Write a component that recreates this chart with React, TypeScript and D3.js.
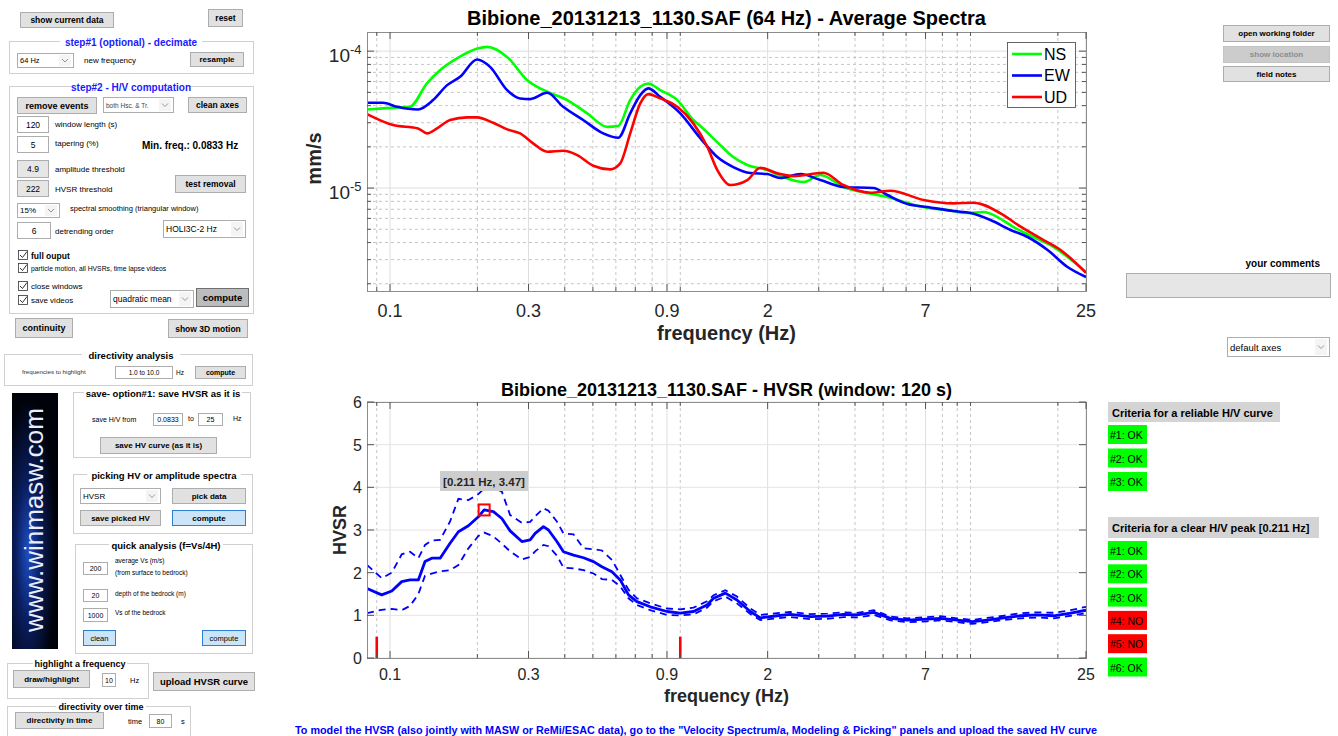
import React from "react";
import * as d3 from "d3";

// ---------------- Average spectra (mm/s) ----------------
const nsFreq = [0.0833, 0.0946, 0.117, 0.134, 0.149, 0.17, 0.2, 0.216, 0.253, 0.297, 0.348, 0.408, 0.478, 0.56, 0.611, 0.672, 0.728, 0.776, 0.853, 0.977, 1.109, 1.172, 1.374, 1.523, 1.702, 1.995, 2.266, 2.656, 3.04, 3.648, 4.415, 5.173, 6.066, 7.109, 8.33, 9.765, 11.09, 12.39, 14.07, 16.49, 19.33, 21.6, 25];
const nsAmp = [3.75e-5, 3.82e-5, 3.92e-5, 5.81e-5, 7.27e-5, 8.84e-5, 10.46e-5, 10.75e-5, 9.08e-5, 6.14e-5, 5.05e-5, 4.39e-5, 3.51e-5, 2.8e-5, 2.84e-5, 4.39e-5, 5.49e-5, 5.81e-5, 5.19e-5, 4.39e-5, 3.14e-5, 2.84e-5, 2.06e-5, 1.684e-5, 1.472e-5, 1.353e-5, 1.203e-5, 1.106e-5, 1.244e-5, 1.017e-5, 0.919e-5, 0.86e-5, 0.777e-5, 0.715e-5, 0.691e-5, 0.657e-5, 0.668e-5, 0.614e-5, 0.519e-5, 0.439e-5, 0.371e-5, 0.3135e-5, 0.2436e-5];

const ewFreq = [0.0833, 0.0946, 0.1057, 0.1249, 0.1407, 0.1573, 0.1743, 0.1995, 0.2212, 0.2532, 0.2807, 0.304, 0.3479, 0.395, 0.4629, 0.5427, 0.6113, 0.6723, 0.728, 0.7756, 0.8531, 1.0, 1.172, 1.342, 1.523, 1.743, 1.995, 2.212, 2.594, 3.04, 3.648, 4.629, 5.173, 6.066, 7.109, 8.737, 10, 11.72, 13.74, 15.73, 18.43, 21.6, 25];
const ewAmp = [4.195e-5, 4.195e-5, 3.92e-5, 3.75e-5, 4.39e-5, 5.647e-5, 6.494e-5, 8.7e-5, 7.68e-5, 5.19e-5, 4.516e-5, 4.463e-5, 4.963e-5, 3.92e-5, 3.14e-5, 2.507e-5, 2.329e-5, 3.51e-5, 4.773e-5, 5.343e-5, 4.639e-5, 3.51e-5, 2.317e-5, 1.684e-5, 1.423e-5, 1.287e-5, 1.265e-5, 1.183e-5, 1.265e-5, 1.144e-5, 1.017e-5, 1.0e-5, 0.889e-5, 0.764e-5, 0.727e-5, 0.679e-5, 0.657e-5, 0.584e-5, 0.494e-5, 0.439e-5, 0.353e-5, 0.265e-5, 0.224e-5];

const udFreq = [0.0833, 0.1024, 0.1249, 0.1341, 0.1452, 0.161, 0.1843, 0.1995, 0.2266, 0.2532, 0.2807, 0.3112, 0.3479, 0.395, 0.4415, 0.5012, 0.5736, 0.621, 0.6723, 0.728, 0.7756, 0.8531, 0.9765, 1.109, 1.239, 1.342, 1.488, 1.702, 1.887, 2.16, 2.453, 3.112, 3.648, 4.522, 5.298, 6.886, 8.737, 10.24, 12.69, 14.88, 17.85, 20.43, 25];
const udAmp = [3.468e-5, 2.884e-5, 2.728e-5, 2.507e-5, 2.728e-5, 3.14e-5, 3.282e-5, 3.282e-5, 2.998e-5, 2.682e-5, 2.507e-5, 2.12e-5, 1.841e-5, 1.872e-5, 1.741e-5, 1.455e-5, 1.369e-5, 1.514e-5, 2.507e-5, 4.152e-5, 4.856e-5, 4.516e-5, 3.92e-5, 2.967e-5, 2.002e-5, 1.353e-5, 1.052e-5, 1.144e-5, 1.407e-5, 1.28e-5, 1.223e-5, 1.293e-5, 1.052e-5, 0.924e-5, 0.956e-5, 0.818e-5, 0.773e-5, 0.781e-5, 0.654e-5, 0.522e-5, 0.417e-5, 0.353e-5, 0.24e-5];

const seriesNames = ["NS", "EW", "UD"];
const seriesColors = ["#00ff00", "#0000ff", "#ff0000"];

// ---------------- HVSR ----------------
const hvFreq = [0.0833, 0.0936, 0.1014, 0.1097, 0.1172, 0.1252, 0.132, 0.1392, 0.1488, 0.161, 0.172, 0.1862, 0.2016, 0.211, 0.2271, 0.2428, 0.2593, 0.2846, 0.304, 0.3162, 0.3378, 0.3515, 0.3757, 0.3959, 0.4286, 0.4641, 0.5024, 0.537, 0.5815, 0.621, 0.6632, 0.7091, 0.7881, 0.9, 1.0, 1.111, 1.236, 1.302, 1.43, 1.568, 1.743, 1.887, 2.155, 2.395, 2.808, 3.206, 3.657, 4.068, 4.641, 5.298, 6.05, 7.091, 7.881, 9.0, 10.14, 11.42, 13.02, 14.88, 16.98, 19.37, 22.13, 25];
const hvMean = [1.63, 1.48, 1.57, 1.79, 1.83, 1.83, 2.26, 2.34, 2.34, 2.69, 2.96, 3.1, 3.31, 3.47, 3.43, 3.27, 2.98, 2.73, 2.77, 2.92, 3.08, 3.0, 2.73, 2.49, 2.41, 2.35, 2.26, 2.14, 2.02, 1.83, 1.48, 1.32, 1.2, 1.09, 1.05, 1.09, 1.24, 1.4, 1.52, 1.36, 1.09, 0.94, 0.99, 1.02, 0.97, 0.98, 1.02, 1.01, 1.07, 0.93, 0.89, 0.91, 0.93, 0.89, 0.85, 0.89, 0.94, 0.99, 1.01, 0.99, 1.05, 1.12];
const hvUpper = [2.18, 1.87, 2.0, 2.43, 2.49, 2.34, 2.65, 2.75, 2.77, 3.2, 3.73, 3.7, 3.84, 3.98, 4.0, 3.9, 3.35, 3.17, 3.19, 3.32, 3.51, 3.45, 3.2, 2.92, 2.9, 2.57, 2.55, 2.52, 2.3, 1.95, 1.6, 1.4, 1.28, 1.16, 1.14, 1.18, 1.33, 1.47, 1.59, 1.44, 1.16, 1.01, 1.05, 1.08, 1.03, 1.04, 1.07, 1.06, 1.12, 0.97, 0.93, 0.96, 0.98, 0.93, 0.89, 0.94, 0.99, 1.05, 1.07, 1.06, 1.12, 1.2];
const hvLower = [1.05, 1.13, 1.15, 1.12, 1.22, 1.5, 1.93, 1.98, 2.03, 2.06, 2.18, 2.57, 2.86, 2.94, 2.85, 2.68, 2.5, 2.31, 2.37, 2.5, 2.65, 2.62, 2.4, 2.12, 2.1, 2.06, 1.98, 1.85, 1.83, 1.68, 1.4, 1.24, 1.12, 1.01, 1.0, 1.02, 1.18, 1.33, 1.44, 1.28, 1.03, 0.89, 0.93, 0.96, 0.91, 0.92, 0.96, 0.95, 1.01, 0.88, 0.84, 0.86, 0.88, 0.84, 0.8, 0.84, 0.89, 0.93, 0.95, 0.93, 0.99, 1.05];

const peakFreq = 0.211;
const peakHV = 3.47;
const limitFreqs = [0.09, 1.0];
const limitHeight = 0.5;

// ---------------- Axes ticks ----------------
const xTickValues = [0.1, 0.3, 0.9, 2, 7, 25];
const xTickLabels = ["0.1", "0.3", "0.9", "2", "7", "25"];
const xMinorValues = [0.09, 0.2, 0.4, 0.5, 0.6, 0.7, 0.8, 1, 3, 4, 5, 6, 8, 9, 10, 20];
const specMajorY = [1e-5, 1e-4];
const specMinorY = [2e-6, 3e-6, 4e-6, 5e-6, 6e-6, 7e-6, 8e-6, 9e-6, 2e-5, 3e-5, 4e-5, 5e-5, 6e-5, 7e-5, 8e-5, 9e-5];
const hvTicks = [0, 1, 2, 3, 4, 5, 6];

// ---------------- Criteria ----------------
const reliableLabels = ["#1: OK", "#2: OK", "#3: OK"];
const reliablePass = [true, true, true];
const peakLabels = ["#1: OK", "#2: OK", "#3: OK", "#4: NO", "#5: NO", "#6: OK"];
const peakPass = [true, true, true, false, false, true];

const FONT = '"Liberation Sans", Arial, Helvetica, sans-serif';
const AX = "#262626";

function Button({ x, y, w, h, label, fs = 8.5, bold = true, fill = "#e1e1e1", stroke = "#adadad", color = "#000" }: any) {
  return (
    <g>
      <rect x={x + 0.5} y={y + 0.5} width={w} height={h} fill={fill} stroke={stroke} />
      <text x={x + w / 2 + 0.5} y={y + h / 2 + 0.8} textAnchor="middle" dominantBaseline="central" fontSize={fs} fontWeight={bold ? "bold" : "normal"} fill={color}>{label}</text>
    </g>
  );
}

function Edit({ x, y, w, h, value, fs = 8.5, fill = "#fff" }: any) {
  return (
    <g>
      <rect x={x + 0.5} y={y + 0.5} width={w} height={h} fill={fill} stroke="#adadad" />
      <text x={x + w / 2 + 0.5} y={y + h / 2 + 0.8} textAnchor="middle" dominantBaseline="central" fontSize={fs} fill="#000">{value}</text>
    </g>
  );
}

function Drop({ x, y, w, h, label, fs = 8.5, color = "#000" }: any) {
  const cy = y + h / 2;
  return (
    <g>
      <rect x={x + 0.5} y={y + 0.5} width={w} height={h} fill="#fff" stroke="#adadad" />
      <rect x={x + w - 14} y={y + 2} width={12} height={h - 3} fill="#f4f4f4" />
      <path d={`M${x + w - 11},${cy - 1} l3,3 l3,-3`} fill="none" stroke="#8a8a8a" strokeWidth={0.9} />
      <text x={x + 3} y={cy + 0.8} dominantBaseline="central" fontSize={fs} fill={color}>{label}</text>
    </g>
  );
}

function Check({ x, y, label, fs = 8.5, bold = false }: any) {
  return (
    <g>
      <rect x={x + 0.5} y={y + 0.5} width={9} height={9} fill="#fff" stroke="#333" strokeWidth={0.8} />
      <path d={`M${x + 2},${y + 5} l2.5,2.5 l4.5,-6`} fill="none" stroke="#333" strokeWidth={1} />
      <text x={x + 13} y={y + 5.5} dominantBaseline="central" fontSize={fs} fontWeight={bold ? "bold" : "normal"} fill="#000">{label}</text>
    </g>
  );
}

function Panel({ x, y, w, h, title, cx, tw, fs = 9.5, color = "#000" }: any) {
  return (
    <g>
      <rect x={x + 0.5} y={y + 0.5} width={w} height={h} fill="none" stroke="#d0d0d0" />
      <rect x={cx - tw / 2 - 3} y={y - 6} width={tw + 6} height={12} fill="#fff" />
      <text x={cx} y={y + 1} textAnchor="middle" dominantBaseline="central" fontSize={fs} fontWeight="bold" fill={color}>{title}</text>
    </g>
  );
}

function Label({ x, y, children, fs = 8.5, color = "#000", bold = false, anchor = "start" }: any) {
  return <text x={x} y={y} fontSize={fs} fill={color} fontWeight={bold ? "bold" : "normal"} textAnchor={anchor} dominantBaseline="central">{children}</text>;
}

export default function App() {
  const xTop = d3.scaleLog().domain([0.0833, 25]).range([367, 1086]);
  const yTop = d3.scaleLog().domain([1.77e-6, 1.38e-4]).range([291, 32]);
  const xBot = d3.scaleLog().domain([0.0833, 25]).range([367, 1086]);
  const yBot = d3.scaleLinear().domain([0, 6]).range([658, 402]);

  const [tx0, tx1] = xTop.range();
  const [ty0, ty1] = [yTop.range()[1], yTop.range()[0]];
  const [by0, by1] = [yBot.range()[1], yBot.range()[0]];

  const specLine = d3.line<[number, number]>().x((d) => xTop(d[0])).y((d) => yTop(d[1])).curve(d3.curveMonotoneX);
  const hvLine = d3.line<[number, number]>().x((d) => xBot(d[0])).y((d) => yBot(d[1]));

  const spectra = [
    { f: nsFreq, a: nsAmp },
    { f: ewFreq, a: ewAmp },
    { f: udFreq, a: udAmp },
  ];
  const zip = (f: number[], a: number[]) => f.map((v, i) => [v, a[i]] as [number, number]);

  return (
    <div style={{ position: "absolute", left: 0, top: 0 }}>
      <svg width={1338} height={736} style={{ display: "block", fontFamily: FONT, background: "#fff" }}>
        <defs>
          <clipPath id="clipTop"><rect x={tx0} y={ty0} width={tx1 - tx0} height={ty1 - ty0} /></clipPath>
          <clipPath id="clipBot"><rect x={tx0} y={by0} width={tx1 - tx0} height={by1 - by0} /></clipPath>
          <radialGradient id="glow" cx="0.35" cy="0.62" r="0.6">
            <stop offset="0" stopColor="#1d4fc4" />
            <stop offset="0.45" stopColor="#0a1d5e" />
            <stop offset="1" stopColor="#00020a" />
          </radialGradient>
        </defs>
        <rect x={0} y={0} width={1338} height={736} fill="#fff" />

        {/* ================= TOP CHART ================= */}
        <g>
          {xMinorValues.map((v) => (
            <line key={"tvm" + v} x1={xTop(v)} x2={xTop(v)} y1={ty0} y2={ty1} stroke="#c6c6c6" strokeDasharray="3,3" />
          ))}
          {specMinorY.map((v) => (
            <line key={"thm" + v} x1={tx0} x2={tx1} y1={yTop(v)} y2={yTop(v)} stroke="#c6c6c6" strokeDasharray="3,3" />
          ))}
          {xTickValues.map((v) => (
            <line key={"tv" + v} x1={xTop(v)} x2={xTop(v)} y1={ty0} y2={ty1} stroke="#dedede" />
          ))}
          {specMajorY.map((v) => (
            <line key={"th" + v} x1={tx0} x2={tx1} y1={yTop(v)} y2={yTop(v)} stroke="#dedede" />
          ))}
          <g clipPath="url(#clipTop)">
            {spectra.map((s, i) => (
              <path key={"s" + i} d={specLine(zip(s.f, s.a)) || ""} fill="none" stroke={seriesColors[i]} strokeWidth={2.6} strokeLinejoin="round" />
            ))}
          </g>
          {/* frame and ticks */}
          <rect x={tx0 + 0.5} y={ty0 + 0.5} width={tx1 - tx0} height={ty1 - ty0} fill="none" stroke="#8c8c8c" />
          {xTickValues.map((v) => (
            <g key={"tt" + v}>
              <line x1={xTop(v)} x2={xTop(v)} y1={ty1} y2={ty1 - 7} stroke="#555" />
              <line x1={xTop(v)} x2={xTop(v)} y1={ty0} y2={ty0 + 7} stroke="#555" />
            </g>
          ))}
          {xMinorValues.map((v) => (
            <g key={"ttm" + v}>
              <line x1={xTop(v)} x2={xTop(v)} y1={ty1} y2={ty1 - 4} stroke="#555" />
              <line x1={xTop(v)} x2={xTop(v)} y1={ty0} y2={ty0 + 4} stroke="#555" />
            </g>
          ))}
          {specMajorY.map((v) => (
            <g key={"tyt" + v}>
              <line x1={tx0} x2={tx0 + 7} y1={yTop(v)} y2={yTop(v)} stroke="#555" />
              <line x1={tx1} x2={tx1 - 7} y1={yTop(v)} y2={yTop(v)} stroke="#555" />
            </g>
          ))}
          {specMinorY.map((v) => (
            <g key={"tytm" + v}>
              <line x1={tx0} x2={tx0 + 4} y1={yTop(v)} y2={yTop(v)} stroke="#555" />
              <line x1={tx1} x2={tx1 - 4} y1={yTop(v)} y2={yTop(v)} stroke="#555" />
            </g>
          ))}
          {xTickValues.map((v, i) => (
            <text key={"tl" + v} x={xTop(v)} y={317} textAnchor="middle" fontSize={18} fill={AX}>{xTickLabels[i]}</text>
          ))}
          {specMajorY.map((v) => (
            <g key={"tyl" + v}>
              <text x={350} y={yTop(v) + 11} textAnchor="end" fontSize={19} fill={AX}>10</text>
              <text x={350} y={yTop(v) + 3} textAnchor="start" fontSize={13} fill={AX}>{String(Math.round(Math.log10(v)))}</text>
            </g>
          ))}
          <text x={(tx0 + tx1) / 2} y={25} textAnchor="middle" fontSize={20} fontWeight="bold" fill="#000">Bibione_20131213_1130.SAF (64 Hz) - Average Spectra</text>
          <text x={(tx0 + tx1) / 2} y={340} textAnchor="middle" fontSize={20} fontWeight="bold" fill={AX}>frequency (Hz)</text>
          <text transform={`translate(321,${(ty0 + ty1) / 2 - 3}) rotate(-90)`} textAnchor="middle" fontSize={20} fontWeight="bold" fill={AX}>mm/s</text>
          {/* legend */}
          <rect x={1007.5} y={42.5} width={68} height={65} fill="#fff" stroke="#555" strokeWidth={0.9} />
          {seriesNames.map((n, i) => (
            <g key={"lg" + n}>
              <line x1={1012} x2={1042} y1={54 + i * 21.5} y2={54 + i * 21.5} stroke={seriesColors[i]} strokeWidth={2.6} />
              <text x={1044} y={54 + i * 21.5} dominantBaseline="central" fontSize={16} fill="#000">{n}</text>
            </g>
          ))}
        </g>

        {/* ================= BOTTOM CHART ================= */}
        <g>
          {xMinorValues.map((v) => (
            <line key={"bvm" + v} x1={xBot(v)} x2={xBot(v)} y1={by0} y2={by1} stroke="#c6c6c6" strokeDasharray="3,3" />
          ))}
          {xTickValues.map((v) => (
            <line key={"bv" + v} x1={xBot(v)} x2={xBot(v)} y1={by0} y2={by1} stroke="#dedede" />
          ))}
          {hvTicks.map((v) => (
            <line key={"bh" + v} x1={tx0} x2={tx1} y1={yBot(v)} y2={yBot(v)} stroke="#e4e4e4" />
          ))}
          <g clipPath="url(#clipBot)">
            <path d={hvLine(zip(hvFreq, hvUpper)) || ""} fill="none" stroke="#0000ff" strokeWidth={1.8} strokeDasharray="7,5" />
            <path d={hvLine(zip(hvFreq, hvLower)) || ""} fill="none" stroke="#0000ff" strokeWidth={1.8} strokeDasharray="7,5" />
            <path d={hvLine(zip(hvFreq, hvMean)) || ""} fill="none" stroke="#0000ff" strokeWidth={2.8} strokeLinejoin="round" />
          </g>
          {limitFreqs.map((f) => (
            <line key={"lim" + f} x1={xBot(f)} x2={xBot(f)} y1={yBot(0)} y2={yBot(limitHeight)} stroke="#ff0000" strokeWidth={2.6} />
          ))}
          <rect x={tx0 + 0.5} y={by0 + 0.5} width={tx1 - tx0} height={by1 - by0} fill="none" stroke="#8c8c8c" />
          {xTickValues.map((v) => (
            <g key={"bt" + v}>
              <line x1={xBot(v)} x2={xBot(v)} y1={by1} y2={by1 - 7} stroke="#555" />
              <line x1={xBot(v)} x2={xBot(v)} y1={by0} y2={by0 + 7} stroke="#555" />
            </g>
          ))}
          {xMinorValues.map((v) => (
            <g key={"btm" + v}>
              <line x1={xBot(v)} x2={xBot(v)} y1={by1} y2={by1 - 4} stroke="#555" />
              <line x1={xBot(v)} x2={xBot(v)} y1={by0} y2={by0 + 4} stroke="#555" />
            </g>
          ))}
          {hvTicks.map((v) => (
            <g key={"byt" + v}>
              <line x1={tx0} x2={tx0 + 7} y1={yBot(v)} y2={yBot(v)} stroke="#555" />
              <line x1={tx1} x2={tx1 - 7} y1={yBot(v)} y2={yBot(v)} stroke="#555" />
              <text x={362} y={yBot(v) + 6} textAnchor="end" fontSize={16} fill={AX}>{String(v)}</text>
            </g>
          ))}
          {xTickValues.map((v, i) => (
            <text key={"bl" + v} x={xBot(v)} y={680} textAnchor="middle" fontSize={16} fill={AX}>{xTickLabels[i]}</text>
          ))}
          {/* peak marker + data tip */}
          <rect x={xBot(peakFreq) - 5.5} y={yBot(peakHV) - 5.5} width={11} height={11} fill="none" stroke="#ff0000" strokeWidth={2} />
          <rect x={440} y={471} width={88} height={20} fill="#cdcdcd" />
          <text x={484} y={481.5} textAnchor="middle" dominantBaseline="central" fontSize={11.5} fontWeight="bold" fill={AX}>{`[${peakFreq} Hz, ${peakHV}]`}</text>
          <text x={(tx0 + tx1) / 2} y={396} textAnchor="middle" fontSize={18} fontWeight="bold" fill="#000">Bibione_20131213_1130.SAF - HVSR (window: 120 s)</text>
          <text x={(tx0 + tx1) / 2} y={702} textAnchor="middle" fontSize={18} fontWeight="bold" fill={AX}>frequency (Hz)</text>
          <text transform={`translate(346,${(by0 + by1) / 2}) rotate(-90)`} textAnchor="middle" fontSize={18} fontWeight="bold" fill={AX}>HVSR</text>
        </g>

        {/* ================= LEFT GUI ================= */}
        <g>
          <Button x={20} y={12} w={93} h={15} label="show current data" />
          <Button x={208} y={9} w={34} h={17} label="reset" />

          <Panel x={9} y={41} w={244} h={32} title="step#1 (optional) - decimate" cx={131} tw={136} fs={10} color="#1a1aff" />
          <Drop x={17} y={53} w={56} h={14} label="64 Hz" fs={7.5} />
          <Label x={84} y={60} fs={8}>new frequency</Label>
          <Button x={190} y={52} w={53} h={14} label="resample" fs={8} />

          <Panel x={9} y={86} w={244} h={227} title="step#2 - H/V computation" cx={131} tw={112} fs={10} color="#1a1aff" />
          <Button x={17} y={97} w={79} h={16} label="remove events" fs={9} />
          <Drop x={103} y={97} w={70} h={15} label="both Hsc. & Tr." fs={6.5} color="#444" />
          <Button x={188} y={97} w={58} h={15} label="clean axes" fs={8.5} />
          <Edit x={17} y={116} w={31} h={16} value="120" />
          <Label x={55} y={124} fs={8}>window length (s)</Label>
          <Edit x={17} y={136} w={31} h={16} value="5" />
          <Label x={55} y={143} fs={8}>tapering (%)</Label>
          <Label x={142} y={145} fs={10} bold>Min. freq.: 0.0833 Hz</Label>
          <Edit x={17} y={160} w={31} h={17} value="4.9" fill="#e6e6e6" />
          <Label x={55} y={169} fs={8}>amplitude threshold</Label>
          <Edit x={17} y={180} w={31} h={16} value="222" fill="#e6e6e6" />
          <Label x={55} y={189} fs={8}>HVSR threshold</Label>
          <Button x={175} y={175} w={70} h={17} label="test removal" fs={8.5} />
          <Drop x={17} y={203} w={42} h={14} label="15%" fs={8} />
          <Label x={70} y={208} fs={7.5}>spectral smoothing (triangular window)</Label>
          <Edit x={17} y={222} w={33} h={16} value="6" />
          <Label x={55} y={231} fs={8}>detrending order</Label>
          <Drop x={163} y={220} w={82} h={17} label="HOLI3C-2 Hz" fs={8.5} />
          <Check x={18} y={250} label="full ouput" fs={8.5} bold />
          <Check x={18} y={263} label="particle motion, all HVSRs, time lapse videos" fs={6.8} />
          <Check x={18} y={281} label="close windows" fs={8} />
          <Check x={18} y={295} label="save videos" fs={8} />
          <Drop x={110} y={290} w={83} h={17} label="quadratic mean" fs={8.5} />
          <Button x={196} y={288} w={52} h={18} label="compute" fs={9.5} fill="#bcbcbc" stroke="#707070" />

          <Button x={15} y={318} w={57} h={19} label="continuity" fs={9} />
          <Button x={168} y={319} w={79} h={18} label="show 3D motion" fs={8.5} />

          <Panel x={4} y={354} w={248} h={31} title="directivity analysis" cx={131} tw={92} fs={9.5} />
          <Label x={22} y={371} fs={6.2} color="#333">frequencies to highlight</Label>
          <Edit x={115} y={366} w={57} h={12} value="1.0 to 10.0" fs={6.5} />
          <Label x={176} y={372} fs={6.5}>Hz</Label>
          <Button x={195} y={366} w={50} h={12} label="compute" fs={7} />

          {/* logo */}
          <rect x={12} y={393} width={46} height={256} fill="url(#glow)" />
          <text transform="translate(43,520) rotate(-90)" textAnchor="middle" fontSize={26} fill="#e8eefc">www.winmasw.com</text>

          <Panel x={73} y={392} w={177} h={65} title="save- option#1: save HVSR as it is" cx={163} tw={152} fs={9.5} />
          <Label x={92} y={419} fs={7}>save H/V from</Label>
          <Edit x={153} y={413} w={29} h={12} value="0.0833" fs={7} />
          <Label x={188} y={418} fs={7}>to</Label>
          <Edit x={198} y={413} w={24} h={12} value="25" fs={7} />
          <Label x={233} y={418} fs={7}>Hz</Label>
          <Button x={100} y={437} w={116} h={16} label="save HV curve (as it is)" fs={8} />

          <Panel x={73} y={474} w={179} h={59} title="picking HV or amplitude spectra" cx={164} tw={148} fs={9.5} />
          <Drop x={80} y={488} w={80} h={15} label="HVSR" fs={8} />
          <Button x={172} y={488} w={73} h={15} label="pick data" fs={8} />
          <Button x={80} y={510} w={80} h={15} label="save picked HV" fs={8} />
          <Button x={172} y={510} w={73} h={15} label="compute" fs={8} fill="#cce4f7" stroke="#2a7fd4" />

          <Panel x={75} y={544} w={177} h={109} title="quick analysis (f=Vs/4H)" cx={166} tw={108} fs={9.5} />
          <Edit x={83} y={562} w={24} h={12} value="200" fs={7} />
          <Label x={115} y={560} fs={6.5}>average Vs (m/s)</Label>
          <Label x={115} y={572} fs={6.5}>(from surface to bedrock)</Label>
          <Edit x={83} y={589} w={24} h={12} value="20" fs={7} />
          <Label x={115} y={593} fs={6.5}>depth of the bedrock (m)</Label>
          <Edit x={83} y={608} w={24} h={13} value="1000" fs={7} />
          <Label x={115} y={612} fs={6.5}>Vs of the bedrock</Label>
          <Button x={83} y={630} w={32} h={15} label="clean" fs={7.5} bold={false} fill="#cce4f7" stroke="#2a7fd4" />
          <Button x={202} y={630} w={43} h={15} label="compute" fs={7.5} bold={false} fill="#cce4f7" stroke="#2a7fd4" />

          <Panel x={7} y={663} w={141} h={35} title="highlight a frequency" cx={80} tw={88} fs={9} />
          <Button x={13} y={670} w={76} h={17} label="draw/highlight" fs={8} />
          <Edit x={102} y={673} w={13} h={13} value="10" fs={7} />
          <Label x={130} y={680} fs={7.5}>Hz</Label>
          <Button x={153} y={672} w={101} h={18} label="upload HVSR curve" fs={9.5} />

          <Panel x={7} y={706} w={183} h={40} title="directivity over time" cx={101} tw={84} fs={9} />
          <Button x={15} y={712} w={88} h={16} label="directivity in time" fs={8} />
          <Label x={128} y={721} fs={7.5}>time</Label>
          <Edit x={149} y={714} w={22} h={13} value="80" fs={7} />
          <Label x={181} y={721} fs={7.5}>s</Label>
        </g>

        {/* ================= RIGHT GUI ================= */}
        <g>
          <Button x={1223} y={25} w={106} h={16} label="open working folder" fs={8} />
          <Button x={1223} y={46} w={106} h={16} label="show location" fs={8} fill="#cccccc" stroke="#c4c4c4" color="#8c8c8c" />
          <Button x={1223} y={66} w={106} h={15} label="field notes" fs={8} />
          <Label x={1320} y={263} fs={10} bold anchor="end">your comments</Label>
          <rect x={1126.5} y={273.5} width={204} height={24} fill="#e6e6e6" stroke="#adadad" />
          <Drop x={1227} y={337} w={102} h={19} label="default axes" fs={9.5} />

          <rect x={1108} y={402} width={172} height={20} fill="#d4d4d4" />
          <Label x={1112} y={412.5} fs={11} bold>Criteria for a reliable H/V curve</Label>
          {reliableLabels.map((t, i) => (
            <g key={"rc" + i}>
              <rect x={1108} y={425 + i * 23.5} width={39} height={19} fill={reliablePass[i] ? "#00ff00" : "#ff0000"} />
              <Label x={1110} y={435 + i * 23.5} fs={10.5}>{t}</Label>
            </g>
          ))}
          <rect x={1108} y={517} width={211} height={21} fill="#d4d4d4" />
          <Label x={1112} y={528} fs={11} bold>Criteria for a clear H/V peak [0.211 Hz]</Label>
          {peakLabels.map((t, i) => (
            <g key={"pc" + i}>
              <rect x={1108} y={541 + i * 23.3} width={39} height={19} fill={peakPass[i] ? "#00ff00" : "#ff0000"} />
              <Label x={1110} y={551 + i * 23.3} fs={10.5}>{t}</Label>
            </g>
          ))}
        </g>

        <text x={696} y={734} textAnchor="middle" fontSize={10.8} fontWeight="bold" fill="#0000ff">
          To model the HVSR (also jointly with MASW or ReMi/ESAC data), go to the "Velocity Spectrum/a, Modeling &amp; Picking" panels and upload the saved HV curve
        </text>
      </svg>
    </div>
  );
}
